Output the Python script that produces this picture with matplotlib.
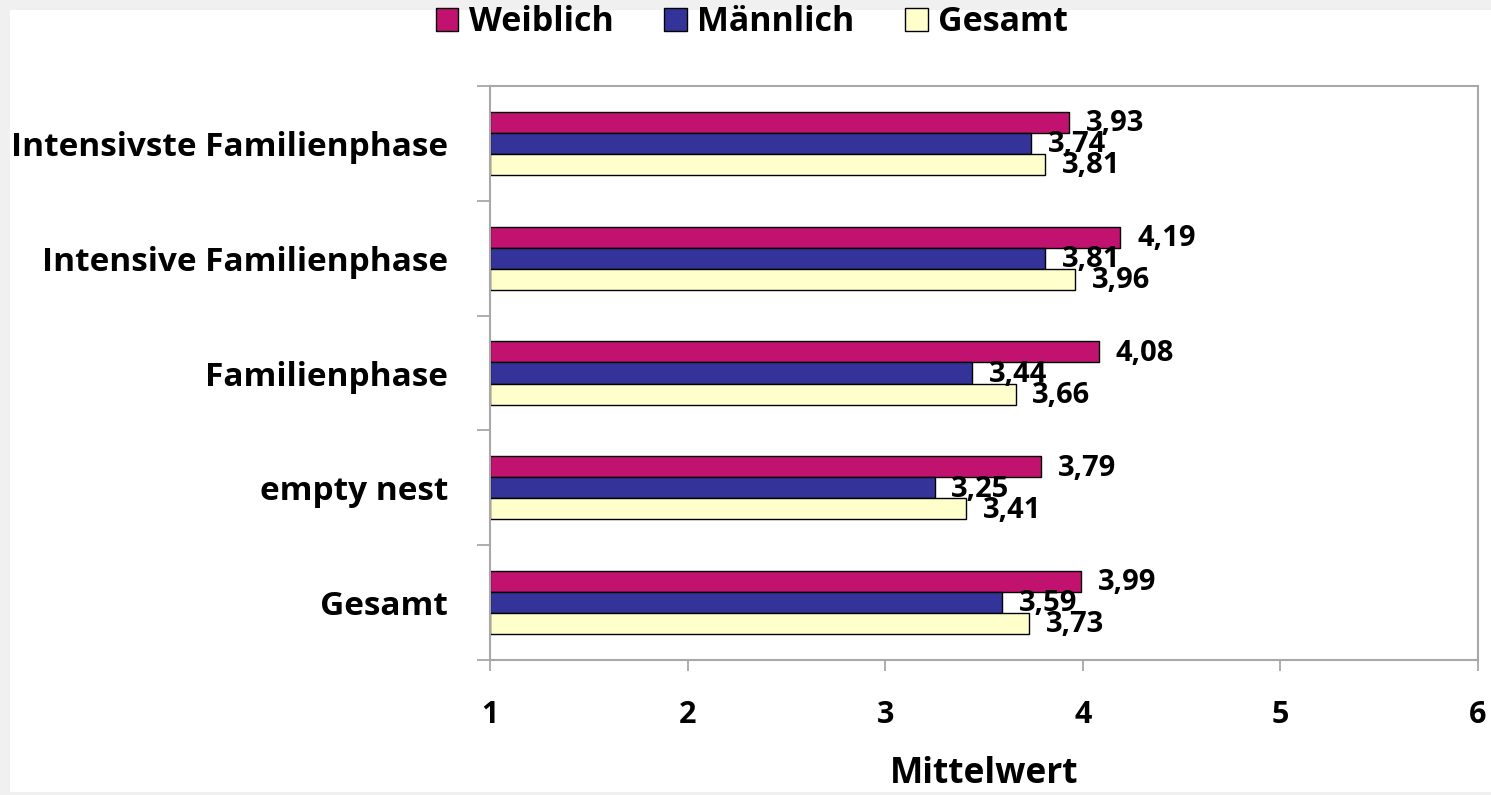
import matplotlib.pyplot as plt
from matplotlib.patches import Rectangle, Patch
import numpy as np

# Data
categories = ["Intensivste Familienphase", "Intensive Familienphase",
              "Familienphase", "empty nest", "Gesamt"]
weiblich = [3.93, 4.19, 4.08, 3.79, 3.99]
maennlich = [3.74, 3.81, 3.44, 3.25, 3.59]
gesamt = [3.81, 3.96, 3.66, 3.41, 3.73]
series_names = ["Weiblich", "Männlich", "Gesamt"]
colors = ["#C2126F", "#333399", "#FFFFCC"]
x_ticks = [1, 2, 3, 4, 5, 6]

plt.rcParams["font.family"] = ["Open Sans", "DejaVu Sans"]

fig = plt.figure(figsize=(14.91, 7.95), dpi=100, facecolor="#F0F0F0")
fig.patches.append(Rectangle((10 / 1491, 3 / 795), 1, 782 / 795,
                             transform=fig.transFigure, facecolor="white",
                             edgecolor="none", zorder=-10))

ax = fig.add_axes([490 / 1491, 135 / 795, 988 / 1491, 574 / 795])

y = np.arange(len(categories))
h = 0.183
gray = "#A8A8A8"
for i, (vals, name, col) in enumerate(zip([weiblich, maennlich, gesamt], series_names, colors)):
    pos = y + (i - 1) * h
    ax.barh(pos, np.array(vals) - 1, left=1, height=h, color=col,
            edgecolor="black", linewidth=1.0, label=name)
    for p, v in zip(pos, vals):
        ax.annotate(f"{v:.2f}".replace(".", ","), xy=(v, p), xytext=(12, -1),
                    textcoords="offset points", va="center", ha="left",
                    fontsize=21, fontweight="bold")

ax.set_xlim(1, 6)
ax.set_ylim(len(categories) - 0.5, -0.5)
ax.set_xticks(x_ticks)
ax.set_xticklabels([str(t) for t in x_ticks], fontsize=22, fontweight="bold")
ax.set_yticks(y)
ax.set_yticklabels(categories, fontsize=24, fontweight="bold")
ax.set_yticks(np.arange(-0.5, len(categories)), minor=True)
ax.tick_params(axis="y", which="major", length=0, pad=30)
ax.tick_params(axis="y", which="minor", length=9.5, width=1.3, color=gray)
ax.tick_params(axis="x", which="major", length=8, width=1.3, color=gray, pad=21)
for s in ax.spines.values():
    s.set_color(gray)
    s.set_linewidth(1.5)

fig.text(984 / 1491, 1 - 774 / 795, "Mittelwert", ha="center", va="center",
         fontsize=25.5, fontweight="bold")

handles = [Patch(facecolor=c, edgecolor="black", linewidth=1.0) for c in colors]
fig.legend(handles, series_names, loc="center", ncol=3, frameon=False,
           bbox_to_anchor=(752 / 1491, 1 - 22 / 795),
           prop={"size": 24.5, "weight": "bold"},
           handlelength=0.66, handleheight=0.66, handletextpad=0.3,
           columnspacing=1.5)

plt.savefig("out.png", dpi=100, facecolor=fig.get_facecolor())
